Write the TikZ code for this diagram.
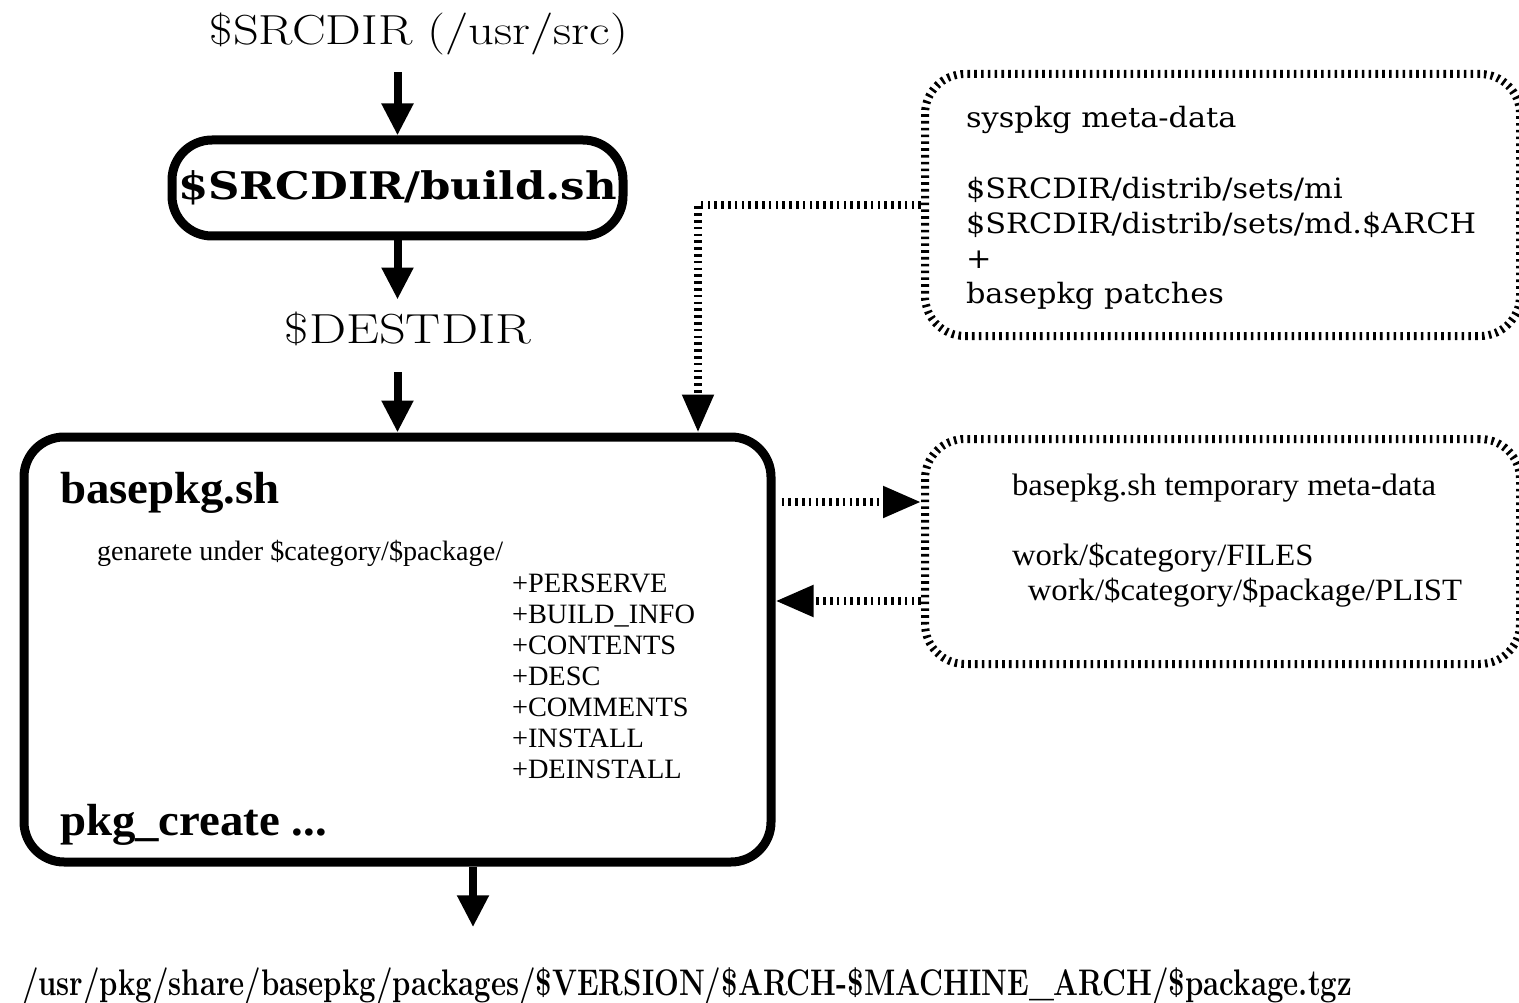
\documentclass[tikz,border=0pt]{standalone}
\usepackage{fontspec}
\usepackage{graphicx}
\usetikzlibrary{arrows.meta}
\newfontfamily\timesf{Liberation Serif}
\newfontfamily\centf{DejaVu Serif}
\newcommand{\hfit}[2]{\resizebox{#1}{\height}{#2}}
\tikzset{
  txt/.style={inner sep=0pt, outer sep=0pt},
  solidbox/.style={draw, line width=9pt, rounded corners=40pt, inner sep=0pt},
  dotbox/.style={draw, line width=8pt, dash pattern=on 2.6pt off 4.2pt, rounded corners=40pt, inner sep=0pt},
  solidarrow/.style={line width=8pt, -{Triangle[length=32pt,width=30pt]}},
  dotarrow/.style={line width=8pt, dash pattern=on 2.6pt off 4.2pt, -{Triangle[length=38pt,width=30pt]}},
}
\begin{document}
\begin{tikzpicture}[x=1pt,y=-1pt]
\useasboundingbox (0,0) rectangle (1519,1003);
\clip (0,0) rectangle (1519,1003);

% left column
\node[txt, anchor=base] (src) at (419,45)
  {\hfit{418pt}{\fontsize{42}{42}\selectfont \$SRCDIR (/usr/src)}};
\node[solidbox, minimum width=451pt, minimum height=96pt] (build) at (397.5,188)
  {\hfit{439pt}{\centf\fontsize{38}{38}\selectfont\bfseries \$SRCDIR/build.sh}};
\node[txt, anchor=base] (dest) at (408,343)
  {\hfit{246pt}{\fontsize{42}{42}\selectfont \$DESTDIR}};
\node[solidbox, minimum width=747pt, minimum height=425pt] (base) at (397.5,649.5) {};

\node[txt, anchor=base west] (bhead) at (60,503)
  {\hfit{220pt}{\timesf\bfseries\fontsize{45}{45}\selectfont basepkg.sh}};
\node[txt, anchor=base west] (gen) at (97,560)
  {\hfit{406pt}{\timesf\fontsize{28}{31}\selectfont genarete under \$category/\$package/}};
\node[txt, anchor=base west] (files) at (512,592)
  {\hfit{183pt}{\timesf\fontsize{28}{31}\selectfont\begin{tabular}[t]{@{}l@{}}
   +PERSERVE\\ +BUILD\_INFO\\ +CONTENTS\\ +DESC\\ +COMMENTS\\ +INSTALL\\ +DEINSTALL
   \end{tabular}}};
\node[txt, anchor=base west] (pkgc) at (60,835)
  {\hfit{267pt}{\timesf\bfseries\fontsize{45}{45}\selectfont pkg\_create ...}};
\node[txt, anchor=base west] (out) at (22,995)
  {\hfit{1330pt}{\bfseries\fontsize{37}{37}\selectfont /usr/pkg/share/basepkg/packages/\$VERSION/\$ARCH-\$MACHINE\_ARCH/\$package.tgz}};

% right boxes
\node[dotbox, minimum width=595pt, minimum height=262pt] (sys) at (1222.5,205) {};
\node[txt, anchor=base west] (systext) at (966,128)
  {\hfit{510pt}{\centf\fontsize{28}{35}\selectfont\begin{tabular}[t]{@{}l@{}}
   syspkg meta-data\\ \\ \$SRCDIR/distrib/sets/mi\\ \$SRCDIR/distrib/sets/md.\$ARCH\\ +\\ basepkg patches
   \end{tabular}}};
\node[dotbox, minimum width=595pt, minimum height=225pt] (temp) at (1222.5,551.5) {};
\node[txt, anchor=base west] (temptext) at (1012,495)
  {\hfit{450pt}{\timesf\fontsize{31}{35}\selectfont\begin{tabular}[t]{@{}l@{}}
   basepkg.sh temporary meta-data\\ \\ work/\$category/FILES\\ \hspace*{15pt}work/\$category/\$package/PLIST
   \end{tabular}}};

% helper coordinates
\coordinate (cx) at (698,0);
\coordinate (ox) at (473,0);
\coordinate (ya) at (0,502);
\coordinate (yb) at (0,601);

% solid arrows
\draw[solidarrow, shorten <=17pt] (src.south -| build.north) -- (build.north);
\draw[solidarrow, shorten >=12pt] (build.south) -- (dest.north -| build.south);
\draw[solidarrow, shorten <=27pt] (dest.south -| base.north) -- (base.north);
\draw[solidarrow, shorten >=40pt] (base.south -| ox) -- (out.north -| ox);

% dotted arrows
\draw[dotarrow] (sys.west) -| (base.north -| cx);
\draw[dotarrow, shorten <=6pt] (base.east |- ya) -- (temp.west |- ya);
\draw[dotarrow] (temp.west |- yb) -- (base.east |- yb);
\end{tikzpicture}
\end{document}
